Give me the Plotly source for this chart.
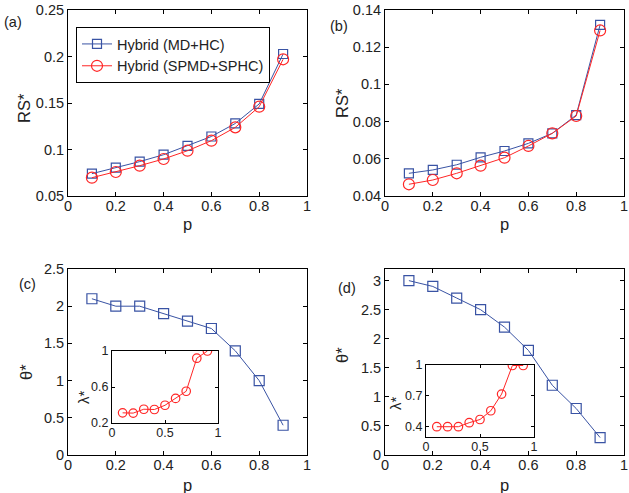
import plotly.graph_objects as go

# data
p = [0.1, 0.2, 0.3, 0.4, 0.5, 0.6, 0.7, 0.8, 0.9]

rs_a_mdhc = [0.074, 0.0805, 0.087, 0.0944, 0.1038, 0.114, 0.128, 0.149, 0.2027]
rs_a_sp = [0.0697, 0.0758, 0.0826, 0.0898, 0.0987, 0.1095, 0.1238, 0.146, 0.197]

rs_b_mdhc = [0.0522, 0.054, 0.0568, 0.0608, 0.0642, 0.0683, 0.0737, 0.0835, 0.132]
rs_b_sp = [0.0463, 0.0486, 0.0522, 0.0563, 0.0606, 0.0669, 0.0737, 0.083, 0.129]

theta_c = [2.1, 2.0, 2.0, 1.9, 1.8, 1.7, 1.4, 1.0, 0.4]
lambda_c = [0.313, 0.31, 0.353, 0.35, 0.397, 0.473, 0.553, 0.92, 1.0]

theta_d = [3.0, 2.9, 2.7, 2.5, 2.2, 1.8, 1.2, 0.8, 0.3]
lambda_d = [0.4, 0.4, 0.4, 0.439, 0.47, 0.555, 0.717, 0.995, 0.995]

x_ticks = [0, 0.2, 0.4, 0.6, 0.8, 1]
x_labels = ["0", "0.2", "0.4", "0.6", "0.8", "1"]
ya_ticks = [0.05, 0.1, 0.15, 0.2, 0.25]
ya_labels = ["0.05", "0.1", "0.15", "0.2", "0.25"]
yb_ticks = [0.04, 0.06, 0.08, 0.1, 0.12, 0.14]
yb_labels = ["0.04", "0.06", "0.08", "0.1", "0.12", "0.14"]
yc_ticks = [0, 0.5, 1, 1.5, 2, 2.5]
yc_labels = ["0", "0.5", "1", "1.5", "2", "2.5"]
yd_ticks = [0, 0.5, 1, 1.5, 2, 2.5, 3]
yd_labels = ["0", "0.5", "1", "1.5", "2", "2.5", "3"]
in_x_ticks = [0, 0.5, 1]
in_x_labels = ["0", "0.5", "1"]
inc_y_ticks = [0.2, 0.6, 1]
inc_y_labels = ["0.2", "0.6", "1"]
ind_y_ticks = [0.4, 0.7, 1]
ind_y_labels = ["0.4", "0.7", "1"]

W, H = 629, 493
blue = "#3953A4"
red = "#FF2626"
font = "Liberation Sans, Arial, sans-serif"
txt = "#222222"


def px(x0, x1):
    return [x0 / W, x1 / W]


def py(top, bottom):
    return [1 - bottom / H, 1 - top / H]


fig = go.Figure()


def line(x, y, xa, ya, color, symbol, size, name=None, legend=False):
    fig.add_trace(
        go.Scatter(
            x=x, y=y, xaxis=xa, yaxis=ya, mode="lines+markers", name=name,
            showlegend=legend,
            line=dict(color=color, width=1),
            marker=dict(symbol=symbol, size=size, color=color,
                        line=dict(color=color, width=1.2)),
        )
    )


line(p, rs_a_mdhc, "x", "y", blue, "square-open", 9, "Hybrid (MD+HC)", True)
line(p, rs_a_sp, "x", "y", red, "circle-open", 11, "Hybrid (SPMD+SPHC)", True)
line(p, rs_b_mdhc, "x2", "y2", blue, "square-open", 9)
line(p, rs_b_sp, "x2", "y2", red, "circle-open", 11)
line(p, theta_c, "x3", "y3", blue, "square-open", 10)
line(p, theta_d, "x4", "y4", blue, "square-open", 10)
line(p, lambda_c, "x5", "y5", red, "circle-open", 8.5)
line(p, lambda_d, "x6", "y6", red, "circle-open", 8.5)

axis_common = dict(
    showline=True, linecolor="black", linewidth=1, mirror="ticks",
    ticks="inside", ticklen=4, tickcolor="black", showgrid=False,
    zeroline=False, automargin=False,
    tickfont=dict(family=font, size=14.5, color=txt),
)
xaxis_common = dict(axis_common, ticklabelstandoff=-3)
inset_common = dict(axis_common, tickfont=dict(family=font, size=12.5, color=txt),
                    ticklen=3)
inset_x = dict(inset_common, ticklabelstandoff=-2)

left, right = px(68, 307), px(385, 624)
top, bot = py(10, 196), py(269, 455)

fig.update_layout(
    template="none",
    width=W, height=H,
    margin=dict(l=0, r=0, t=0, b=0, autoexpand=False),
    paper_bgcolor="white", plot_bgcolor="rgba(0,0,0,0)",
    font=dict(family=font, color=txt),
    xaxis=dict(xaxis_common, domain=left, anchor="y", range=[0, 1],
               tickvals=x_ticks, ticktext=x_labels),
    yaxis=dict(axis_common, domain=top, anchor="x", range=[0.05, 0.25],
               tickvals=ya_ticks, ticktext=ya_labels),
    xaxis2=dict(xaxis_common, domain=right, anchor="y2", range=[0, 1],
                tickvals=x_ticks, ticktext=x_labels),
    yaxis2=dict(axis_common, domain=top, anchor="x2", range=[0.04, 0.14],
                tickvals=yb_ticks, ticktext=yb_labels),
    xaxis3=dict(xaxis_common, domain=left, anchor="y3", range=[0, 1],
                tickvals=x_ticks, ticktext=x_labels),
    yaxis3=dict(axis_common, domain=bot, anchor="x3", range=[0, 2.5],
                tickvals=yc_ticks, ticktext=yc_labels),
    xaxis4=dict(xaxis_common, domain=right, anchor="y4", range=[0, 1],
                tickvals=x_ticks, ticktext=x_labels),
    yaxis4=dict(axis_common, domain=bot, anchor="x4", range=[0, 3.2],
                tickvals=yd_ticks, ticktext=yd_labels),
    xaxis5=dict(inset_x, domain=px(112, 218), anchor="y5", range=[0, 1],
                tickvals=in_x_ticks, ticktext=in_x_labels),
    yaxis5=dict(inset_common, domain=py(351, 423), anchor="x5", range=[0.2, 1],
                tickvals=inc_y_ticks, ticktext=inc_y_labels),
    xaxis6=dict(inset_x, domain=px(426, 534), anchor="y6", range=[0, 1],
                tickvals=in_x_ticks, ticktext=in_x_labels),
    yaxis6=dict(inset_common, domain=py(365, 437), anchor="x6", range=[0.3, 1],
                tickvals=ind_y_ticks, ticktext=ind_y_labels),
    legend=dict(
        x=76 / W, y=1 - 27 / H, xanchor="left", yanchor="top",
        bgcolor="white", bordercolor="black", borderwidth=1,
        font=dict(family=font, size=14.5, color=txt),
        tracegroupgap=0,
    ),
)

# white backdrop behind the insets
for x0, x1, t, b in [(112, 218, 351, 423), (426, 534, 365, 437)]:
    fig.add_shape(type="rect", xref="paper", yref="paper",
                  x0=x0 / W, x1=x1 / W, y0=1 - b / H, y1=1 - t / H,
                  fillcolor="white", line=dict(width=0), layer="below")


def label(text, x, y, size=16.5, angle=0):
    fig.add_annotation(text=text, x=x / W, y=1 - y / H, xref="paper", yref="paper",
                       xanchor="center", yanchor="middle",
                       showarrow=False, textangle=angle,
                       font=dict(family=font, size=size, color=txt))


label("(a)", 13, 22, 14.5)
label("(b)", 339, 26, 14.5)
label("(c)", 27, 284, 14.5)
label("(d)", 347, 288, 14.5)
label("p", 187.5, 224)
label("p", 504.5, 224)
label("p", 187.5, 485)
label("p", 504.5, 485)
label("RS*", 24, 108, 16.5, -90)
label("RS*", 342, 103, 16.5, -90)
label("θ*", 26, 372, 16.5, -90)
label("θ*", 342, 355, 16.5, -90)
label("λ*", 83, 397, 15, -90)
label("λ*", 395, 403, 15, -90)

# the page's default body margin would shift the figure by 8px
fig.write_html(
    "out.html",
    config={"displayModeBar": False},
    post_script="document.body.style.margin='0';document.body.style.overflow='hidden';",
)
